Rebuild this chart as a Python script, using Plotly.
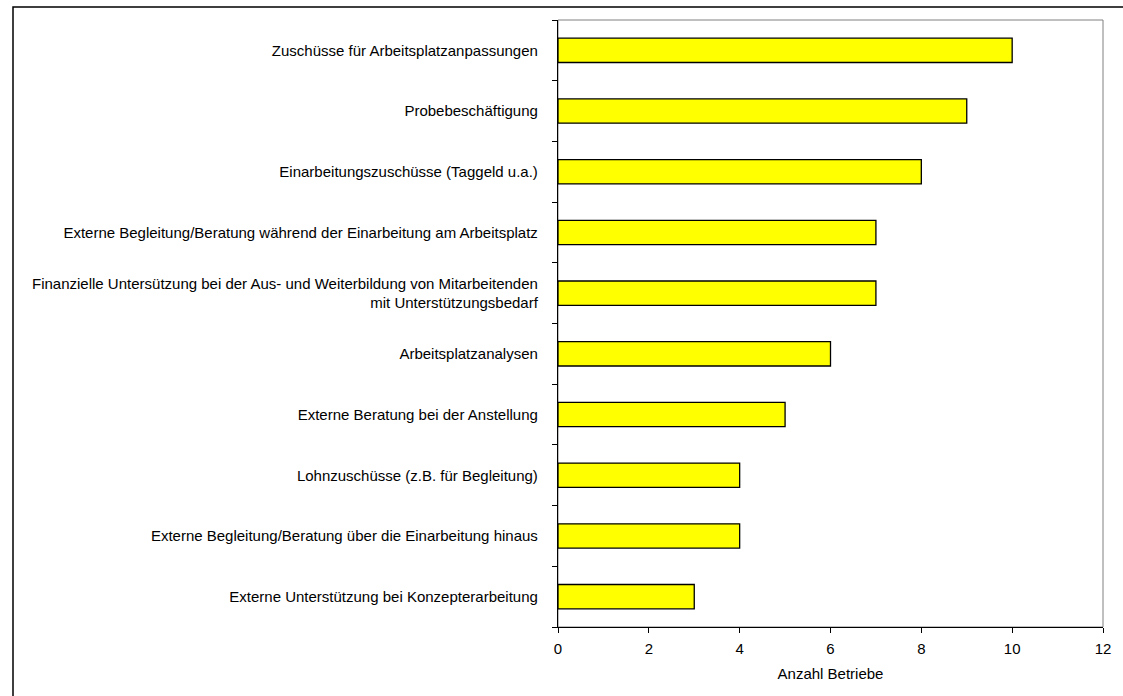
import plotly.graph_objects as go

# Maßnahmen (von unten nach oben) und Anzahl Betriebe
massnahmen = [
    "Externe Unterstützung bei Konzepterarbeitung",
    "Externe Begleitung/Beratung über die Einarbeitung hinaus",
    "Lohnzuschüsse (z.B. für Begleitung)",
    "Externe Beratung bei der Anstellung",
    "Arbeitsplatzanalysen",
    "Finanzielle Untersützung bei der Aus- und Weiterbildung von Mitarbeitenden<br>mit Unterstützungsbedarf",
    "Externe Begleitung/Beratung während der Einarbeitung am Arbeitsplatz",
    "Einarbeitungszuschüsse (Taggeld u.a.)",
    "Probebeschäftigung",
    "Zuschüsse für Arbeitsplatzanpassungen",
]
anzahl_betriebe = [3, 4, 4, 5, 6, 7, 7, 8, 9, 10]
x_ticks = [0, 2, 4, 6, 8, 10, 12]

W, H = 1123, 696
L, R, T, B = 558, 15, 20, 69
pw, ph = W - L - R, H - T - B

fig = go.Figure(go.Bar(
    x=anzahl_betriebe,
    y=massnahmen,
    orientation="h",
    width=0.4,
    marker=dict(color="#ffff00", line=dict(color="#000000", width=1.3)),
    hoverinfo="x+y",
))

font = dict(family="Liberation Sans, Arial, sans-serif", size=15, color="#000000")

fig.update_layout(
    width=W, height=H,
    margin=dict(l=L, r=R, t=T, b=B, pad=0),
    paper_bgcolor="#ffffff",
    plot_bgcolor="#ffffff",
    font=font,
    showlegend=False,
    xaxis=dict(
        range=[0, 12],
        tickvals=x_ticks,
        ticktext=[str(v) for v in x_ticks],
        ticks="outside", ticklen=5, tickcolor="#000000", tickwidth=1,
        showline=True, linecolor="#000000", linewidth=1.3,
        showgrid=False, zeroline=False,
        tickfont=font,
        ticklabelstandoff=3,
        title=dict(text="Anzahl Betriebe", font=font, standoff=12),
    ),
    yaxis=dict(
        type="category",
        categoryorder="array", categoryarray=massnahmen,
        range=[-0.5, len(massnahmen) - 0.5],
        ticks="outside", ticklen=5, tickcolor="#000000", tickwidth=1,
        tickson="boundaries",
        showline=True, linecolor="#000000", linewidth=1.3,
        showgrid=False, zeroline=False,
        tickfont=font,
        ticklabelstandoff=16,
    ),
    shapes=[
        # grauer Rahmen der Zeichenfläche (oben/rechts)
        dict(type="rect", xref="paper", yref="paper", x0=0, y0=0, x1=1, y1=1,
             line=dict(color="#808080", width=1), layer="below"),
        # äußerer Diagrammrahmen
        dict(type="rect", xref="paper", yref="paper",
             x0=(8 - L) / pw, x1=(W + 10 - L) / pw,
             y0=-(B + 10) / ph, y1=(ph + T - 7) / ph,
             line=dict(color="#000000", width=1.5), layer="below"),
    ],
)

fig.write_html("out.html")
